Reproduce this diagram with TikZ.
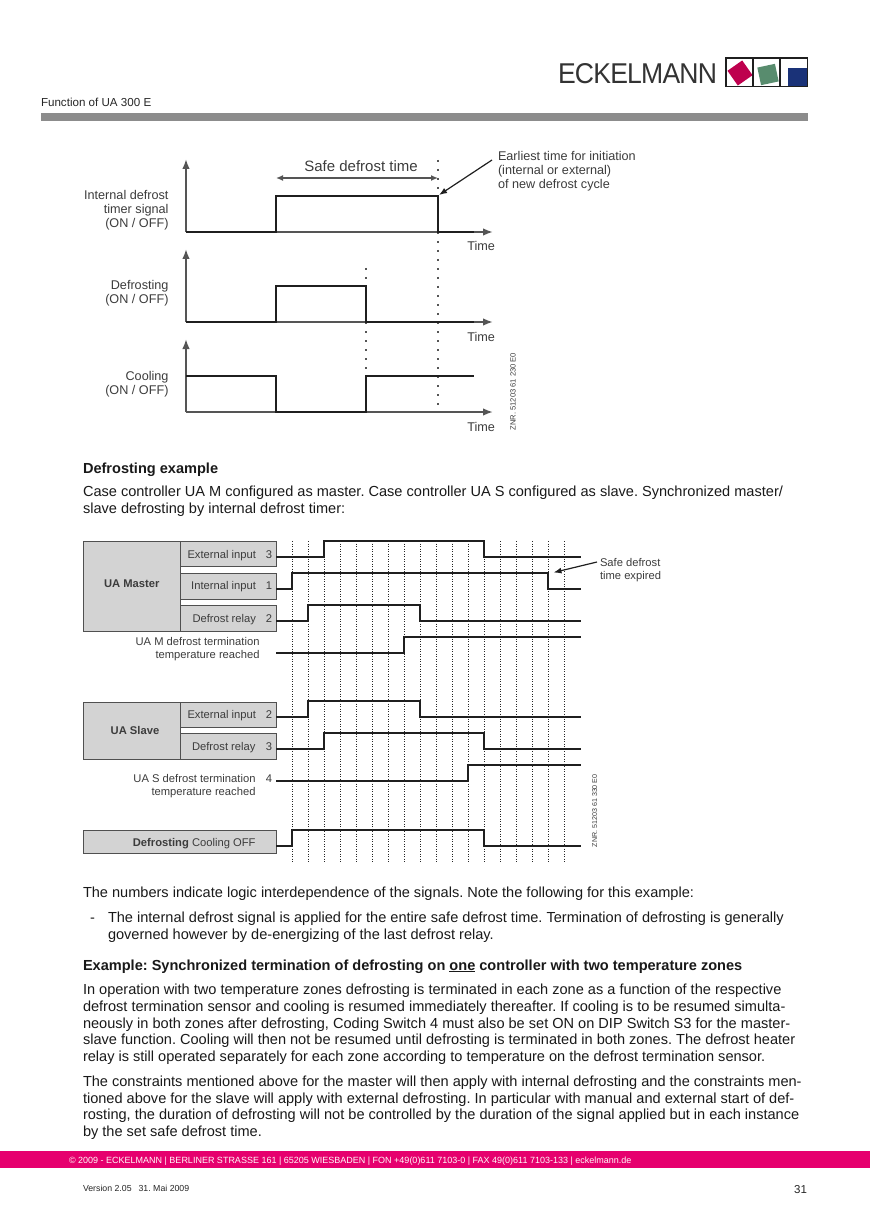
\documentclass[tikz,border=0pt]{standalone}
\usepackage{fontspec}
\usepackage{graphicx}
\setmainfont{Liberation Sans}
\usetikzlibrary{arrows.meta}
\definecolor{lbl}{HTML}{3C3C3C}
\definecolor{axisc}{HTML}{555555}
\definecolor{boxf}{HTML}{D3D3D3}
\definecolor{boxd}{HTML}{505050}
\definecolor{pinkbar}{HTML}{E6006E}
\tikzset{
  x=1pt,y=-1pt,
  every node/.style={inner sep=0pt,outer sep=0pt},
  body/.style={anchor=base west,font=\fontsize{14.56}{16}\selectfont,text=black!90},
  lab/.style={anchor=base east,font=\fontsize{12.65}{14}\selectfont,text=lbl},
  labl/.style={anchor=base west,font=\fontsize{12.65}{14}\selectfont,text=lbl},
  sml/.style={anchor=base east,font=\fontsize{11.2}{13}\selectfont,text=lbl},
  smll/.style={anchor=base west,font=\fontsize{11.2}{13}\selectfont,text=lbl},
  znr/.style={rotate=90,anchor=base west,font=\fontsize{7.6}{9}\selectfont,text=lbl},
  axisl/.style={draw=axisc,line width=1.6pt,-{Latex[length=10pt,width=7.5pt]}},
  sigA/.style={draw=black!88,line width=2.6pt,line join=miter},
  sigB/.style={draw=black!88,line width=1.9pt,line join=miter},
  dotA/.style={draw=axisc,line width=1.8pt,dash pattern=on 1.8pt off 7.2pt},
  gridl/.style={draw=black!85,line width=.9pt,dash pattern=on 1.3pt off 1.2pt},
  sbox/.style={draw=boxd,fill=boxf,line width=.9pt},
  lead/.style={draw=black!88,line width=1.2pt,-{Latex[length=8pt,width=6pt]}},
  safe/.style={draw=axisc,line width=1.4pt,{Latex[length=7pt,width=6pt]}-{Latex[length=7pt,width=6pt]}}
}
\begin{document}
\frenchspacing
\begin{tikzpicture}
\useasboundingbox (0,0) rectangle (870,1230);
% header
\node (logotext) [anchor=south west] at (558,83.5) {\color{black!80}\resizebox{159pt}{20pt}{\addfontfeatures{LetterSpace=-3}ECKELMANN}};
\fill[rotate around={35:(740,73)},fill={rgb,255:red,190;green,0;blue,78}] (731,64) rectangle (749,82);
\fill[rotate around={12:(768,74.5)},fill={rgb,255:red,88;green,140;blue,110}] (759,65.5) rectangle (777,83.5);
\fill[fill={rgb,255:red,26;green,50;blue,120}] (788,68) rectangle (808,87);
\draw[black!88,line width=1.5pt] (726,58) rectangle (807.5,86.5) (753,58)--(753,86.5) (780,58)--(780,86.5);
\node (func) [anchor=base west,font=\fontsize{11.6}{13}\selectfont,text=black!85] at (41,107) {Function of UA 300 E};
\fill[black!45] (41,113) rectangle (808,121);

% first chart: dotted guides
\coordinate (gA1) at (438,160); \coordinate (gA2) at (438,412);
\coordinate (gB1) at (366,268); \coordinate (gB2) at (366,372);
\draw[dotA] (gA1) -- (gA2);
\draw[dotA] (gB1) -- (gB2);
% axes
\coordinate (o1) at (186,232); \coordinate (o2) at (186,322); \coordinate (o3) at (186,412);
\draw[axisl] (o1) -- (186,159);
\draw[axisl] (o2) -- (186,249);
\draw[axisl] (o3) -- (186,339);
\draw[axisl] (o1) -- (493,232);
\draw[axisl] (o2) -- (493,322);
\draw[axisl] (o3) -- (493,412);
% signals
\draw[sigA] (o1) -- (276,232) -- (276,196) -- (438,196) -- (438,232) -- (474,232);
\draw[sigA] (o2) -- (276,322) -- (276,286) -- (366,286) -- (366,322) -- (474,322);
\draw[sigA] (186,376) -- (276,376) -- (276,412) -- (366,412) -- (366,376) -- (474,376);
\coordinate (sa) at (276,178); \coordinate (sb) at (438,178);
\draw[safe] (sa) -- (sb);
\node (safetxt) [anchor=base,font=\fontsize{15}{16}\selectfont,text=lbl] at (361,172) {Safe defrost time};
\node (l1a) [lab] at (168.500,199.5) {Internal defrost};
\node (l1b) [lab] at (168.500,213.5) {timer signal};
\node (l1c) [lab] at (168.500,228) {(ON / OFF)};
\node (l2a) [lab] at (168.500,290) {Defrosting};
\node (l2b) [lab] at (168.500,304) {(ON / OFF)};
\node (l3a) [lab] at (168.500,380) {Cooling};
\node (l3b) [lab] at (168.500,394) {(ON / OFF)};
\node (t1) [lab] at (495,251) {Time};
\node (t2) [lab] at (495,341) {Time};
\node (t3) [lab] at (495,431) {Time};
\node (e1) [labl] at (498,160.500) {Earliest time for initiation};
\node (e2) [labl] at (498,174.500) {(internal or external)};
\node (e3) [labl] at (498,189) {of new defrost cycle};
\coordinate (ea) at (492,160); \coordinate (eb) at (439,195);
\draw[lead] (ea) -- (eb);
\node (znr1) [znr] at (515.500,430.500) {ZNR. 51203 61 230 E0};

% body text 1
\node (h1) [body,font=\bfseries\fontsize{14.56}{16}\selectfont] at (83,473) {Defrosting example};
\node (p1) [body] at (83,496) {Case controller UA M configured as master. Case controller UA S configured as slave. Synchronized master/};
\node (p2) [body] at (83,513) {slave defrosting by internal defrost timer:};

% timing grid
\foreach \gx in {292,308,...,564} \draw[gridl] (\gx,541) -- (\gx,862);
% boxes
\node (bm)  [sbox,anchor=north west,minimum width=97pt,minimum height=90pt] at (83,541) {};
\node (b1)  [sbox,anchor=north west,minimum width=96pt,minimum height=25pt] at (180,541) {};
\node (b2)  [sbox,anchor=north west,minimum width=96pt,minimum height=26pt] at (180,573) {};
\node (b3)  [sbox,anchor=north west,minimum width=96pt,minimum height=26pt] at (180,605) {};
\node (bs)  [sbox,anchor=north west,minimum width=97pt,minimum height=57pt] at (83,702) {};
\node (b4)  [sbox,anchor=north west,minimum width=96pt,minimum height=25pt] at (180,702) {};
\node (b5)  [sbox,anchor=north west,minimum width=96pt,minimum height=26pt] at (180,733) {};
\node (bd)  [sbox,anchor=north west,minimum width=193pt,minimum height=23pt] at (83,830) {};
\node (uam) [anchor=base,font=\bfseries\fontsize{11.2}{13}\selectfont,text=lbl] at (131.700,587) {UA Master};
\node (uas) [anchor=base,font=\bfseries\fontsize{11.2}{13}\selectfont,text=lbl] at (135,734) {UA Slave};
\node (x1) [sml] at (256,558) {External input};
\node (x1n) [sml] at (272,558) {3};
\node (x2) [sml] at (256,589.500) {Internal input};
\node (x2n) [sml] at (272,589.500) {1};
\node (x3) [sml] at (256,622) {Defrost relay};
\node (x3n) [sml] at (272,622) {2};
\node (x4) [sml] at (256,718) {External input};
\node (x4n) [sml] at (272,718) {2};
\node (x5) [sml] at (255.500,750) {Defrost relay};
\node (x5n) [sml] at (272,750) {3};
\node (m1) [sml] at (259.500,645.500) {UA M defrost termination};
\node (m2) [sml] at (259.500,658.500) {temperature reached};
\node (s1) [sml] at (255.500,782) {UA S defrost termination};
\node (s1n) [sml] at (272,782) {4};
\node (s2) [sml] at (255.500,795) {temperature reached};
\node (dc) [sml] at (255.500,846) {\textbf{Defrosting} Cooling OFF};
\node (sf1) [smll] at (600,566) {Safe defrost};
\node (sf2) [smll] at (600,579) {time expired};
\coordinate (sfa) at (597,562); \coordinate (sfb) at (553.500,572.500);
\draw[lead] (sfa) -- (sfb);
\node (znr2) [znr,font=\fontsize{7.1}{9}\selectfont] at (597,847) {ZNR. 51203 61 330 E0};
% timing signals
\draw[sigB] (276,557) -- (324,557) -- (324,541) -- (484,541) -- (484,557) -- (581,557);
\draw[sigB] (276,589) -- (292,589) -- (292,573) -- (548,573) -- (548,589) -- (581,589);
\draw[sigB] (276,621) -- (308,621) -- (308,605) -- (420,605) -- (420,621) -- (581,621);
\draw[sigB] (276,653) -- (404,653) -- (404,637) -- (581,637);
\draw[sigB] (276,717) -- (308,717) -- (308,701) -- (420,701) -- (420,717) -- (581,717);
\draw[sigB] (276,749) -- (324,749) -- (324,733) -- (484,733) -- (484,749) -- (581,749);
\draw[sigB] (276,781) -- (468,781) -- (468,765) -- (581,765);
\draw[sigB] (276,846) -- (292,846) -- (292,830) -- (484,830) -- (484,846) -- (581,846);

% body text 2
\node (q1) [body] at (83,897) {The numbers indicate logic interdependence of the signals. Note the following for this example:};
\node (q2d) [body] at (90,922) {-};
\node (q2) [body] at (108,922) {The internal defrost signal is applied for the entire safe defrost time. Termination of defrosting is generally};
\node (q3) [body] at (108,939) {governed however by de-energizing of the last defrost relay.};
\node (h2) [body,font=\bfseries\fontsize{14.56}{16}\selectfont] at (83,970) {Example: Synchronized termination of defrosting on \underline{one} controller with two temperature zones};
\node (r1) [body] at (83,994) {In operation with two temperature zones defrosting is terminated in each zone as a function of the respective};
\node (r2) [body] at (83,1011) {defrost termination sensor and cooling is resumed immediately thereafter. If cooling is to be resumed simulta-};
\node (r3) [body] at (83,1028) {neously in both zones after defrosting, Coding Switch 4 must also be set ON on DIP Switch S3 for the master-};
\node (r4) [body] at (83,1044.500) {slave function. Cooling will then not be resumed until defrosting is terminated in both zones. The defrost heater};
\node (r5) [body] at (83,1061) {relay is still operated separately for each zone according to temperature on the defrost termination sensor.};
\node (u1) [body] at (83,1086) {The constraints mentioned above for the master will then apply with internal defrosting and the constraints men-};
\node (u2) [body] at (83,1103) {tioned above for the slave will apply with external defrosting. In particular with manual and external start of def-};
\node (u3) [body] at (83,1119.500) {rosting, the duration of defrosting will not be controlled by the duration of the signal applied but in each instance};
\node (u4) [body] at (83,1136) {by the set safe defrost time.};

% footer
\fill[pinkbar] (0,1151) rectangle (870,1168);
\node (foot) [anchor=base west,font=\fontsize{9}{10}\selectfont,text=white!90!pink] at (69,1163.500) {© 2009 - ECKELMANN | BERLINER STRASSE 161 | 65205 WIESBADEN | FON +49(0)611 7103-0 | FAX 49(0)611 7103-133 | eckelmann.de};
\node (ver) [anchor=base west,font=\fontsize{8.75}{10}\selectfont,text=black!85] at (83,1191) {Version 2.05\hspace{7pt}31. Mai 2009};
\node (pg) [anchor=base east,font=\fontsize{11.5}{13}\selectfont,text=black!85] at (807,1193) {31};
\end{tikzpicture}
\end{document}
